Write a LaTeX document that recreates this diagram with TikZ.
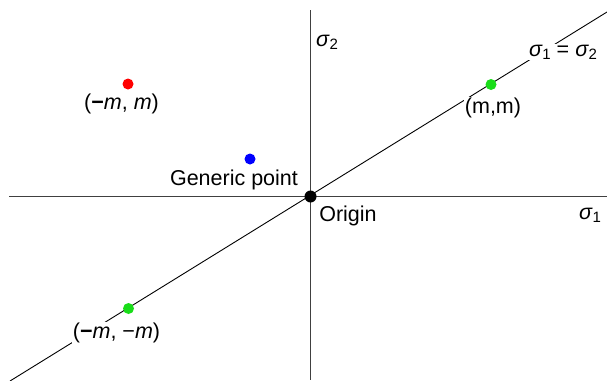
\documentclass[tikz,border=0pt]{standalone}
\usepackage{fontspec}
\setmainfont{Liberation Sans}
\newcommand{\sig}[1]{{\itshape σ}\kern0.02em\raisebox{-0.28ex}{\fontsize{15}{15}\selectfont #1}}
\begin{document}
\begin{tikzpicture}[x=1pt,y=-1pt,
  lbl/.style={inner sep=1pt,font=\fontsize{21.5}{25}\selectfont},
  wlbl/.style={lbl,fill=white},
  axis/.style={draw=black!75,line width=1.2pt},
  diag/.style={draw=black,line width=0.9pt},
  dot/.style={circle,inner sep=0pt,minimum size=#1}]
\useasboundingbox (0,0) rectangle (607,380);
\coordinate (xl) at (9,196.5);
\coordinate (xr) at (607,196.5);
\coordinate (yt) at (310.5,10);
\coordinate (yb) at (310.5,380);
\coordinate (dl) at (10,381);
\coordinate (dr) at (607,12);
\draw[axis] (xl) -- (xr);
\draw[axis] (yt) -- (yb);
\draw[diag] (dl) -- (dr);
\node[dot=12pt,fill=black] (O) at (310.5,196.5) {};
\node[dot=11pt,fill=red] (R) at (128,84) {};
\node[dot=11pt,fill=blue] (B) at (250,159) {};
\node[dot=11pt,fill=green!85!black!90] (G1) at (491,84.5) {};
\node[dot=11pt,fill=green!85!black!90] (G2) at (128.5,308.5) {};
\node[lbl] (Rl) at (121.5,104) {(\textbf{−}\textit{m}, \textit{m})};
\node[lbl] (Bl) at (234,180) {Generic point};
\node[lbl] (Ol) at (348,216) {Origin};
\node[wlbl] (G1l) at (493,108) {(m,m)};
\node[wlbl] (G2l) at (116.5,333) {(\textbf{−}\textit{m}, −\textit{m})};
\node[wlbl] (Dl) at (563,52) {\sig{1} = \sig{2}};
\node[lbl] (Y) at (327,42) {\sig{2}};
\node[lbl] (X) at (590,215) {\sig{1}};
\end{tikzpicture}
\end{document}
